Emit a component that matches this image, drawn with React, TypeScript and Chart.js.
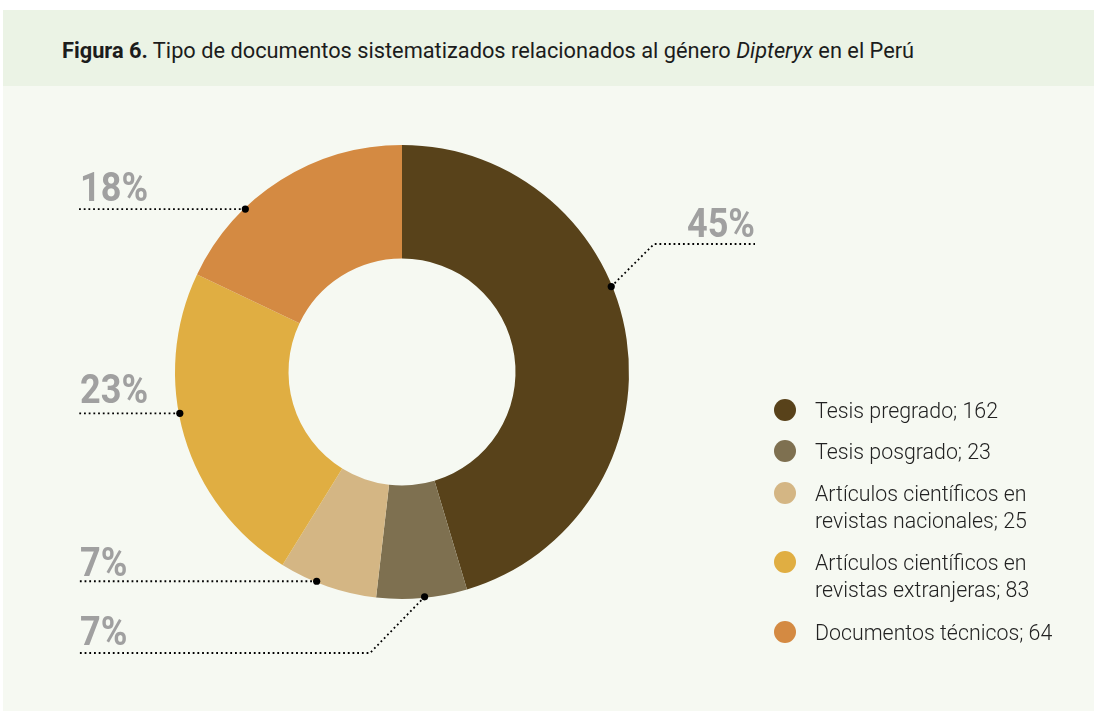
import React, { useEffect, useRef } from "react";
import { Chart, registerables } from "chart.js";

Chart.register(...registerables);

// ---- data ----
const categoryLines: string[][] = [
  ["Tesis pregrado"],
  ["Tesis posgrado"],
  ["Artículos científicos en", "revistas nacionales"],
  ["Artículos científicos en", "revistas extranjeras"],
  ["Documentos técnicos"],
];
const values: number[] = [162, 23, 25, 83, 64];
const pctLabels: string[] = ["45%", "7%", "7%", "23%", "18%"];
const colors: string[] = ["#58421a", "#7e7050", "#d4b684", "#e0ae42", "#d48a42"];

// ---- layout of annotations (not data) ----
type Leader = { frac: number; elbowX?: number; elbowY?: number; endX: number; align: "left" | "right"; textX: number; textY: number };
const leaders: Leader[] = [
  { frac: 0.415, elbowX: 654, elbowY: 244, endX: 755, align: "right", textX: 755, textY: 237 },
  { frac: 0.47, elbowX: 370, elbowY: 653, endX: 78, align: "left", textX: 80, textY: 645 },
  { frac: 0.62, endX: 78, align: "left", textX: 80, textY: 576 },
  { frac: 0.57, endX: 78, align: "left", textX: 80, textY: 403 },
  { frac: 0.32, endX: 78, align: "left", textX: 80, textY: 201 },
];

const FONT = "'Roboto', 'Noto Sans', sans-serif";
const LABEL_SQUEEZE = 0.88;

const leaderPlugin = {
  id: "leaders",
  afterDatasetsDraw(chart: any) {
    const ctx = chart.ctx as CanvasRenderingContext2D;
    const meta = chart.getDatasetMeta(0);
    meta.data.forEach((arc: any, i: number) => {
      const L = leaders[i];
      if (!L) return;
      const p = arc.getProps(["x", "y", "startAngle", "endAngle", "outerRadius"], true);
      const a = p.startAngle + L.frac * (p.endAngle - p.startAngle);
      const r = p.outerRadius - 1;
      const px = p.x + Math.cos(a) * r;
      const py = p.y + Math.sin(a) * r;
      ctx.save();
      ctx.strokeStyle = "#000";
      ctx.lineWidth = 1.8;
      ctx.setLineDash([1.8, 2.9]);
      ctx.beginPath();
      ctx.moveTo(px, py);
      let ly = py;
      if (L.elbowX !== undefined && L.elbowY !== undefined) {
        ctx.lineTo(L.elbowX, L.elbowY);
        ly = L.elbowY;
      }
      ctx.lineTo(L.endX, ly);
      ctx.stroke();
      ctx.setLineDash([]);
      ctx.fillStyle = "#000";
      ctx.beginPath();
      ctx.arc(px, py, 3.6, 0, Math.PI * 2);
      ctx.fill();
      ctx.fillStyle = "#a0a0a0";
      ctx.font = `bold 41px ${FONT}`;
      ctx.textAlign = L.align;
      ctx.textBaseline = "alphabetic";
      ctx.translate(L.textX, L.textY);
      ctx.scale(LABEL_SQUEEZE, 1);
      ctx.fillText(pctLabels[i], 0, 0);
      ctx.restore();
    });
  },
};

const legendY: number[] = [410, 451, 493, 562, 632];

export default function App() {
  const ref = useRef<HTMLCanvasElement | null>(null);
  useEffect(() => {
    if (!ref.current) return;
    const chart = new Chart(ref.current, {
      type: "doughnut",
      data: {
        labels: categoryLines.map((l) => l.join(" ")),
        datasets: [
          {
            data: values,
            backgroundColor: colors,
            borderWidth: 0,
            hoverOffset: 0,
          },
        ],
      },
      options: {
        responsive: false,
        animation: false,
        cutout: "50%",
        layout: { padding: { left: 175, right: 465, top: 145, bottom: 112 } },
        plugins: {
          legend: { display: false },
          title: { display: false },
          tooltip: { enabled: false },
        },
        events: [],
      },
      plugins: [leaderPlugin],
    });
    return () => chart.destroy();
  }, []);

  return (
    <div style={{ position: "fixed", left: 0, top: 0, width: 1094, height: 711, background: "#ffffff", overflow: "hidden", fontFamily: FONT }}>
      <div style={{ position: "absolute", left: 3, top: 10, width: 1091, height: 76, background: "#ebf3e5" }} />
      <div style={{ position: "absolute", left: 3, top: 86, width: 1091, height: 625, background: "#f6f9f2" }} />
      <div style={{ position: "absolute", left: 62, top: 37, lineHeight: "28px", fontSize: 22, color: "#1c1c1c", whiteSpace: "nowrap", transform: "scaleX(0.99)", transformOrigin: "0 0" }}>
        <b>Figura 6.</b> Tipo de documentos sistematizados relacionados al género <i>Dipteryx</i> en el Perú
      </div>
      <canvas ref={ref} width={1094} height={711} style={{ position: "absolute", left: 0, top: 0 }} />
      {categoryLines.map((lines, i) => (
        <React.Fragment key={i}>
          <div style={{ position: "absolute", left: 774, top: legendY[i] - 11, width: 22, height: 22, borderRadius: "50%", background: colors[i] }} />
          <div style={{ position: "absolute", left: 815, top: legendY[i] - 13.5, lineHeight: "27px", fontSize: 22, color: "#222", whiteSpace: "nowrap", fontWeight: 300, transform: "scaleX(0.97)", transformOrigin: "0 0" }}>
            {lines.map((t, j) => (
              <div key={j}>{j === lines.length - 1 ? `${t}; ${values[i]}` : t}</div>
            ))}
          </div>
        </React.Fragment>
      ))}
    </div>
  );
}
